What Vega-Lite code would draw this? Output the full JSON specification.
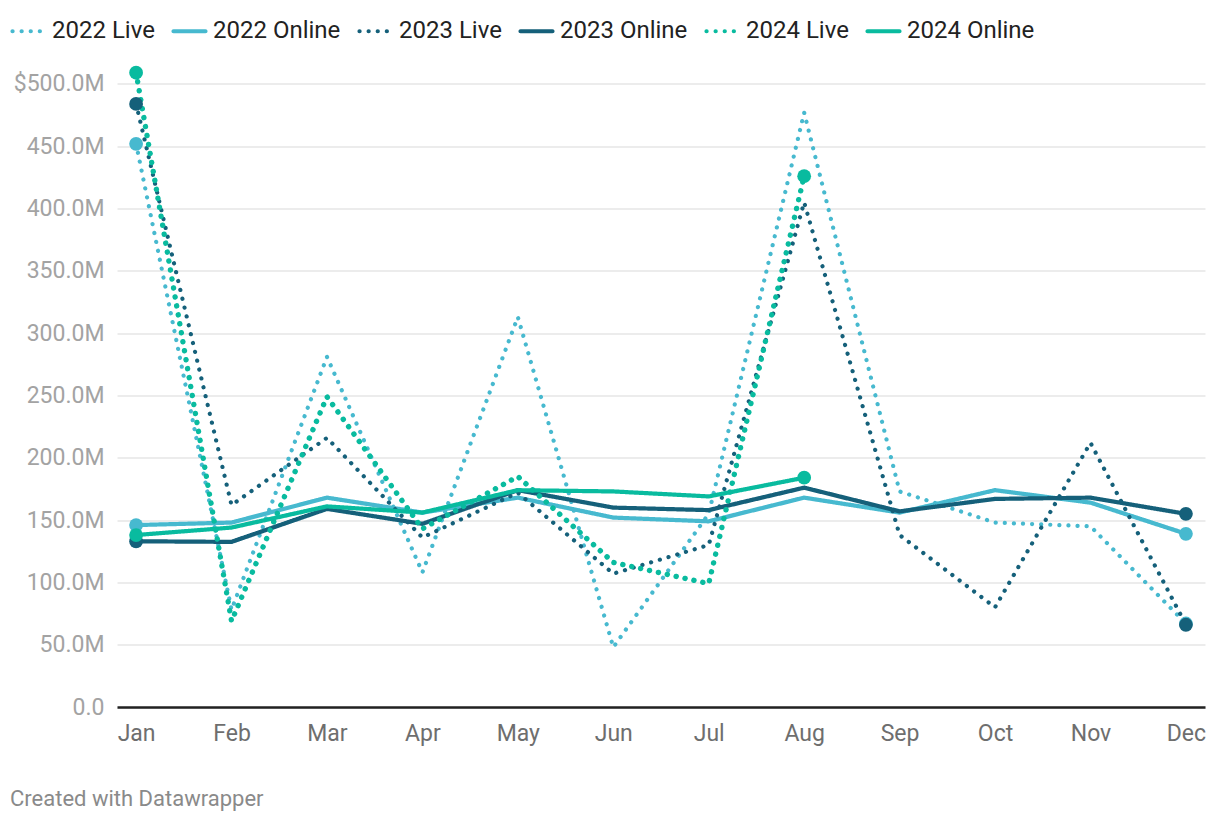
{
  "$schema": "https://vega.github.io/schema/vega-lite/v6.json",
  "width": 1088,
  "height": 635.5,
  "autosize": {"type": "none"},
  "padding": {"left": 117, "top": 71.5, "right": 15, "bottom": 117},
  "background": "white",
  "title": {
    "text": "Created with Datawrapper",
    "orient": "bottom",
    "anchor": "start",
    "frame": "bounds",
    "offset": 44,
    "fontSize": 22,
    "font": "Roboto",
    "fontWeight": "normal",
    "color": "#8a8a8a"
  },
  "config": {
    "view": {"stroke": null},
    "font": "Roboto",
    "legend": {
      "orient": "none",
      "legendX": -107,
      "legendY": -59,
      "direction": "horizontal",
      "title": null,
      "labelFontSize": 24,
      "labelFont": "Roboto",
      "labelColor": "#222222",
      "symbolType": "stroke",
      "symbolSize": 1024,
      "symbolStrokeWidth": 4.2,
      "columnPadding": 10,
      "labelOffset": 5,
      "labelLimit": 300
    }
  },
  "data": {
    "values": [
      {"series": "2022 Live", "month": "Jan", "value": 452},
      {"series": "2022 Live", "month": "Feb", "value": 78},
      {"series": "2022 Live", "month": "Mar", "value": 281},
      {"series": "2022 Live", "month": "Apr", "value": 108},
      {"series": "2022 Live", "month": "May", "value": 313},
      {"series": "2022 Live", "month": "Jun", "value": 48},
      {"series": "2022 Live", "month": "Jul", "value": 155},
      {"series": "2022 Live", "month": "Aug", "value": 477},
      {"series": "2022 Live", "month": "Sep", "value": 173},
      {"series": "2022 Live", "month": "Oct", "value": 148},
      {"series": "2022 Live", "month": "Nov", "value": 145},
      {"series": "2022 Live", "month": "Dec", "value": 67},
      {"series": "2022 Online", "month": "Jan", "value": 146},
      {"series": "2022 Online", "month": "Feb", "value": 148},
      {"series": "2022 Online", "month": "Mar", "value": 168},
      {"series": "2022 Online", "month": "Apr", "value": 156},
      {"series": "2022 Online", "month": "May", "value": 168},
      {"series": "2022 Online", "month": "Jun", "value": 152},
      {"series": "2022 Online", "month": "Jul", "value": 149},
      {"series": "2022 Online", "month": "Aug", "value": 168},
      {"series": "2022 Online", "month": "Sep", "value": 156},
      {"series": "2022 Online", "month": "Oct", "value": 174},
      {"series": "2022 Online", "month": "Nov", "value": 164},
      {"series": "2022 Online", "month": "Dec", "value": 139},
      {"series": "2023 Live", "month": "Jan", "value": 484},
      {"series": "2023 Live", "month": "Feb", "value": 162},
      {"series": "2023 Live", "month": "Mar", "value": 216},
      {"series": "2023 Live", "month": "Apr", "value": 136},
      {"series": "2023 Live", "month": "May", "value": 172},
      {"series": "2023 Live", "month": "Jun", "value": 107},
      {"series": "2023 Live", "month": "Jul", "value": 130},
      {"series": "2023 Live", "month": "Aug", "value": 405},
      {"series": "2023 Live", "month": "Sep", "value": 138},
      {"series": "2023 Live", "month": "Oct", "value": 80},
      {"series": "2023 Live", "month": "Nov", "value": 212},
      {"series": "2023 Live", "month": "Dec", "value": 66},
      {"series": "2023 Online", "month": "Jan", "value": 133},
      {"series": "2023 Online", "month": "Feb", "value": 132.5},
      {"series": "2023 Online", "month": "Mar", "value": 159},
      {"series": "2023 Online", "month": "Apr", "value": 147},
      {"series": "2023 Online", "month": "May", "value": 174},
      {"series": "2023 Online", "month": "Jun", "value": 160},
      {"series": "2023 Online", "month": "Jul", "value": 158},
      {"series": "2023 Online", "month": "Aug", "value": 176},
      {"series": "2023 Online", "month": "Sep", "value": 157},
      {"series": "2023 Online", "month": "Oct", "value": 167},
      {"series": "2023 Online", "month": "Nov", "value": 168},
      {"series": "2023 Online", "month": "Dec", "value": 155},
      {"series": "2024 Live", "month": "Jan", "value": 509},
      {"series": "2024 Live", "month": "Feb", "value": 69},
      {"series": "2024 Live", "month": "Mar", "value": 249},
      {"series": "2024 Live", "month": "Apr", "value": 143},
      {"series": "2024 Live", "month": "May", "value": 185},
      {"series": "2024 Live", "month": "Jun", "value": 116},
      {"series": "2024 Live", "month": "Jul", "value": 99},
      {"series": "2024 Live", "month": "Aug", "value": 426},
      {"series": "2024 Online", "month": "Jan", "value": 138},
      {"series": "2024 Online", "month": "Feb", "value": 144},
      {"series": "2024 Online", "month": "Mar", "value": 161},
      {"series": "2024 Online", "month": "Apr", "value": 156},
      {"series": "2024 Online", "month": "May", "value": 174},
      {"series": "2024 Online", "month": "Jun", "value": 173},
      {"series": "2024 Online", "month": "Jul", "value": 169},
      {"series": "2024 Online", "month": "Aug", "value": 184}
    ]
  },
  "encoding": {
    "x": {
      "field": "month",
      "type": "ordinal",
      "sort": ["Jan","Feb","Mar","Apr","May","Jun","Jul","Aug","Sep","Oct","Nov","Dec"],
      "scale": {"type": "point", "padding": 0.2},
      "axis": {
        "title": null,
        "labelAngle": 0,
        "labelFontSize": 23,
        "labelFont": "Roboto",
        "labelColor": "#6e6e6e",
        "labelPadding": 15,
        "ticks": false,
        "tickSize": 0,
        "domain": true,
        "domainColor": "#222222",
        "domainWidth": 2.5,
        "grid": false
      }
    },
    "y": {
      "field": "value",
      "type": "quantitative",
      "scale": {"domain": [0, 510], "nice": false, "zero": true},
      "axis": {
        "title": null,
        "values": [0, 50, 100, 150, 200, 250, 300, 350, 400, 450, 500],
        "labelExpr": "datum.value == 500 ? '$500.0M' : (datum.value == 0 ? '0.0' : format(datum.value, '.1f') + 'M')",
        "labelFontSize": 23,
        "labelFont": "Roboto",
        "labelColor": "#a3a3a3",
        "labelPadding": 13,
        "ticks": false,
        "tickSize": 0,
        "domain": false,
        "grid": true,
        "gridColor": "#e6e6e6",
        "gridWidth": 1.5
      }
    }
  },
  "layer": [
    {
      "mark": {"type": "line", "strokeCap": "round", "strokeJoin": "round", "strokeWidth": 4.2},
      "encoding": {
        "stroke": {
          "field": "series",
          "type": "nominal",
          "scale": {
            "domain": ["2022 Live", "2022 Online", "2023 Live", "2023 Online", "2024 Live", "2024 Online"],
            "range": ["#47b9cf", "#47b9cf", "#15607a", "#15607a", "#09bb9f", "#09bb9f"]
          }
        },
        "strokeDash": {
          "field": "series",
          "type": "nominal",
          "scale": {
            "domain": ["2022 Live", "2022 Online", "2023 Live", "2023 Online", "2024 Live", "2024 Online"],
            "range": [[0.1, 9], [1, 0], [0.1, 9], [1, 0], [0.1, 9], [1, 0]]
          },
          "legend": {
            "encode": {
              "symbols": {
                "update": {
                  "strokeCap": {"value": "round"}
                }
              }
            }
          }
        }
      }
    },
    {
      "transform": [{"filter": "datum.series == '2024 Live'"}],
      "mark": {"type": "line", "strokeCap": "round", "strokeJoin": "round", "strokeWidth": 5.4, "strokeDash": [0.1, 9], "color": "#09bb9f"},
      "encoding": {}
    },
    {
      "transform": [
        {"joinaggregate": [{"op": "count", "as": "n"}], "groupby": ["series"]},
        {"window": [{"op": "row_number", "as": "rn"}], "groupby": ["series"]},
        {"filter": "datum.rn == 1 || datum.rn == datum.n"}
      ],
      "mark": {"type": "point", "filled": true, "size": 190, "opacity": 1, "shape": "circle", "strokeWidth": 0},
      "encoding": {
        "fill": {
          "field": "series",
          "type": "nominal",
          "scale": {
            "domain": ["2022 Live", "2022 Online", "2023 Live", "2023 Online", "2024 Live", "2024 Online"],
            "range": ["#47b9cf", "#47b9cf", "#15607a", "#15607a", "#09bb9f", "#09bb9f"]
          },
          "legend": null
        }
      }
    }
  ],
  "resolve": {"legend": {"fill": "independent"}}
}
